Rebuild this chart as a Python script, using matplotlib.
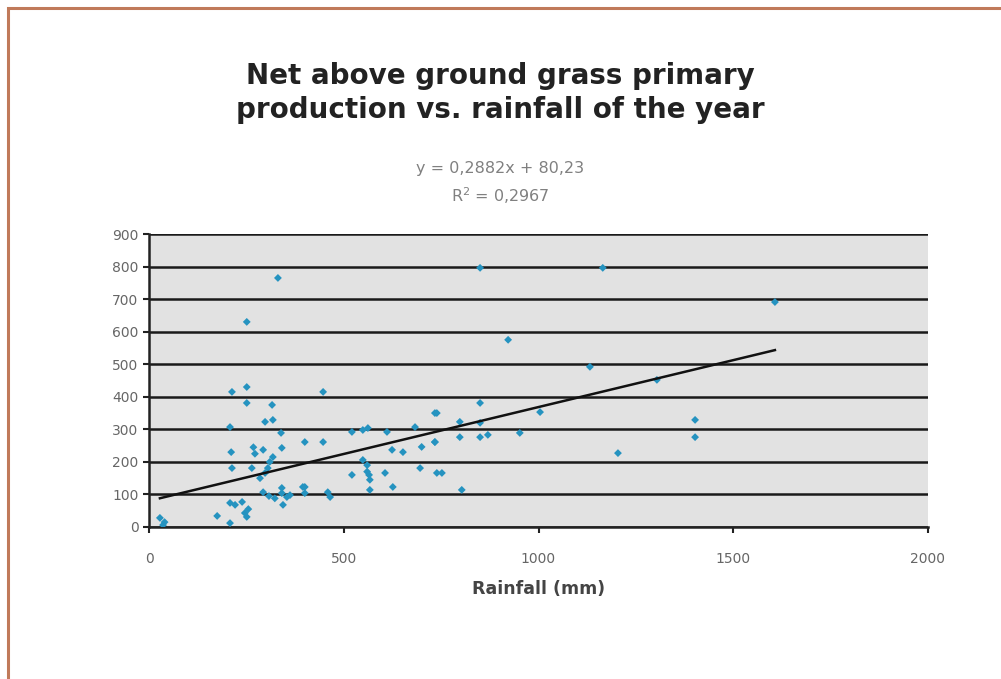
import numpy as np
import matplotlib
matplotlib.use("Agg")
import matplotlib.pyplot as plt
from matplotlib.patches import Rectangle

# rainfall (mm) vs net above ground grass primary production
rainfall = [
    331, 251, 850, 1165, 922, 1132, 1304, 1607, 1402, 1402, 1204, 1004, 952,
    28, 36, 40, 175, 208, 221, 239, 246, 251, 208, 211, 213, 213, 251, 251,
    264, 298, 305, 285, 293, 268, 272, 298, 318, 316, 339, 341, 341, 341,
    344, 293, 308, 323, 354, 400, 395, 447, 447, 400, 400, 459, 465, 362,
    521, 549, 562, 611, 683, 734, 624, 652, 700, 734, 549, 560, 565, 567,
    560, 521, 606, 696, 739, 567, 626, 739, 798, 850, 850, 798, 850, 870,
    734, 752, 803, 208, 255, 310, 318,
]
production = [
    765, 630, 796, 796, 575, 492, 452, 691, 329, 276, 227, 353, 289,
    28, 6, 15, 34, 12, 68, 77, 43, 31, 74, 230, 181, 415, 430, 381,
    181, 166, 181, 150, 237, 245, 225, 323, 329, 375, 289, 243, 120, 104,
    68, 107, 95, 88, 92, 261, 123, 261, 415, 104, 123, 107, 92, 98,
    292, 298, 304, 292, 307, 350, 237, 230, 246, 261, 206, 190, 160, 145,
    170, 160, 166, 181, 166, 114, 123, 350, 323, 381, 320, 276, 276, 283,
    261, 166, 114, 307, 55, 200, 215,
]

# Excel linear trendline as printed on the chart
slope = 0.2882
intercept = 80.23
r2 = 0.2967

x_ticks = [0, 500, 1000, 1500, 2000]
y_ticks = list(range(0, 1000, 100))

fig = plt.figure(figsize=(10.01, 6.79), dpi=100)
fig.patch.set_facecolor("white")

# brown frame around the chart object
fig.patches.append(Rectangle((8 / 1001, -0.05), 1.2, 1 - 8 / 679 + 0.05,
                             transform=fig.transFigure, fill=False,
                             edgecolor="#c07a5a", linewidth=2.2))

ax = fig.add_axes([149 / 1001, 1 - 527 / 679, 779 / 1001, 293 / 679])
ax.set_facecolor("#e2e2e2")

ax.scatter(rainfall, production, marker="D", s=16, color="#2593c0",
           edgecolors="none", zorder=3)

xs = np.array([min(rainfall), max(rainfall)])
ax.plot(xs, slope * xs + intercept, color="#111111", linewidth=1.8, zorder=4)

ax.set_xlim(0, 2000)
ax.set_ylim(0, 900)
ax.set_xticks(x_ticks)
ax.set_yticks(y_ticks)
ax.yaxis.grid(True, color="#1a1a1a", linewidth=1.8)
ax.set_axisbelow(True)
for s in ["top", "right"]:
    ax.spines[s].set_visible(False)
for s in ["left", "bottom"]:
    ax.spines[s].set_color("#222222")
    ax.spines[s].set_linewidth(1.8)
ax.tick_params(colors="#222222", labelcolor="#666666", labelsize=10,
               length=4, width=1.5)
ax.tick_params(axis="x", pad=14)

ax.set_xlabel("Rainfall (mm)", fontsize=12.5, fontweight="bold",
              color="#444444", labelpad=10)

fig.text(0.5, 1 - 93 / 679,
         "Net above ground grass primary\nproduction vs. rainfall of the year",
         ha="center", va="center", fontsize=20, fontweight="bold",
         color="#222222", linespacing=1.25)
fig.text(0.5, 1 - 168 / 679,
         "y = {:.4f}x + {:.2f}".format(slope, intercept).replace(".", ","),
         ha="center", va="center", fontsize=11.5, color="#808080")
fig.text(0.5, 1 - 196 / 679,
         "R$^2$ = {:.4f}".format(r2).replace(".", ","),
         ha="center", va="center", fontsize=11.5, color="#808080")

fig.savefig("out.png", dpi=100)
